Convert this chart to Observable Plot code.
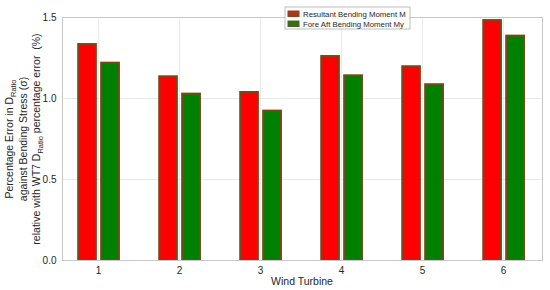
<!DOCTYPE html>
<html><head><meta charset="utf-8">
<script src="https://cdn.jsdelivr.net/npm/d3@7"></script>
<script src="https://cdn.jsdelivr.net/npm/@observablehq/plot@0.6"></script>
<style>body{margin:0;background:#fff;font-family:"Liberation Sans",Arial,sans-serif}</style>
</head><body><div id="chart"></div>
<script>
const turbines = [1, 2, 3, 4, 5, 6];
const resultant = [1.333, 1.134, 1.037, 1.259, 1.196, 1.481];
const foreAft = [1.218, 1.027, 0.922, 1.140, 1.085, 1.385];
const seriesNames = ["Resultant Bending Moment M", "Fore Aft Bending Moment My"];
const yTicks = [0, 0.5, 1, 1.5];
const xLabel = "Wind Turbine";

const fills = ["#ff0000", "#008000"];
const edge = "#74481a";
const swatchFills = ["#9c3c1a", "#3d6a1a"];

const data = turbines.flatMap((t, i) => [
  {t, k: 0, v: resultant[i]},
  {t, k: 1, v: foreAft[i]}
]);

const chart = Plot.plot({
  width: 550, height: 290,
  marginTop: 17, marginBottom: 30, marginLeft: 62, marginRight: 8,
  style: {fontFamily: '"Liberation Sans", Arial, sans-serif', fontSize: "10px", color: "#262626", background: "#fff"},
  x: {domain: [0.555, 6.48], ticks: turbines, tickFormat: d3.format("d"), label: null},
  y: {domain: [0, 1.5], ticks: yTicks, tickFormat: d => String(d), label: null},
  marks: [
    Plot.gridX(turbines, {stroke: "#e8e8e8", strokeOpacity: 1}),
    Plot.gridY(yTicks, {stroke: "#e8e8e8", strokeOpacity: 1}),
    Plot.rectY(data, {
      x1: d => d.k === 0 ? d.t - 0.245 : d.t + 0.038,
      x2: d => d.k === 0 ? d.t - 0.027 : d.t + 0.258,
      y1: 0, y2: "v",
      fill: d => fills[d.k],
      stroke: edge, strokeWidth: 2
    }),
    Plot.frame({stroke: "#c8c8c8"}),
    Plot.axisX({ticks: turbines, tickSize: 0, tickPadding: 6, tickFormat: d3.format("d"), fill: "#262626"}),
    Plot.axisY({ticks: yTicks, tickSize: 0, tickPadding: 6, fill: "#262626"})
  ]
});

const svg = d3.select(chart);
// x label
svg.append("text").attr("x", 302).attr("y", 285).attr("text-anchor", "middle")
  .attr("font-size", 10.5).attr("fill", "#262626").text(xLabel);

// y label (three lines, rotated)
const yl = svg.append("text").attr("transform", "translate(0,139) rotate(-90)")
  .attr("text-anchor", "middle").attr("font-size", 10.5).attr("fill", "#262626");
function addLine(x, parts) {
  const t = yl.append("tspan").attr("x", 0).attr("y", x);
  parts.forEach(p => {
    const s = t.append("tspan").text(p[0]);
    if (p[1]) s.attr("font-size", 7.5).attr("dy", 2.5);
    else if (p[2]) s.attr("dy", -2.5);
  });
}
const ylab1 = ["Percentage Error in D", "Ratio"];
const ylab2 = "against Bending Stress (\u03C3)";
const ylab3 = ["relative with WT7 D", "Ratio", " percentage error  (%)"];
addLine(13, [[ylab1[0]], [ylab1[1], true]]);
addLine(27, [[ylab2]]);
addLine(40, [[ylab3[0]], [ylab3[1], true], [ylab3[2], false, true]]);

// legend
const lg = svg.append("g").attr("transform", "translate(285,7)");
lg.append("rect").attr("width", 125).attr("height", 22).attr("fill", "#fff").attr("stroke", "#bdbdbd").attr("stroke-width", 1);
seriesNames.forEach((name, i) => {
  lg.append("rect").attr("x", 2.5).attr("y", 3.5 + i * 10).attr("width", 12).attr("height", 6.5).attr("fill", swatchFills[i]);
  lg.append("text").attr("x", 18).attr("y", 10 + i * 10).attr("text-anchor", "start")
    .attr("font-size", 7.8).attr("fill", "#262626").text(name);
});

document.getElementById("chart").append(chart);
</script>
</body></html>
